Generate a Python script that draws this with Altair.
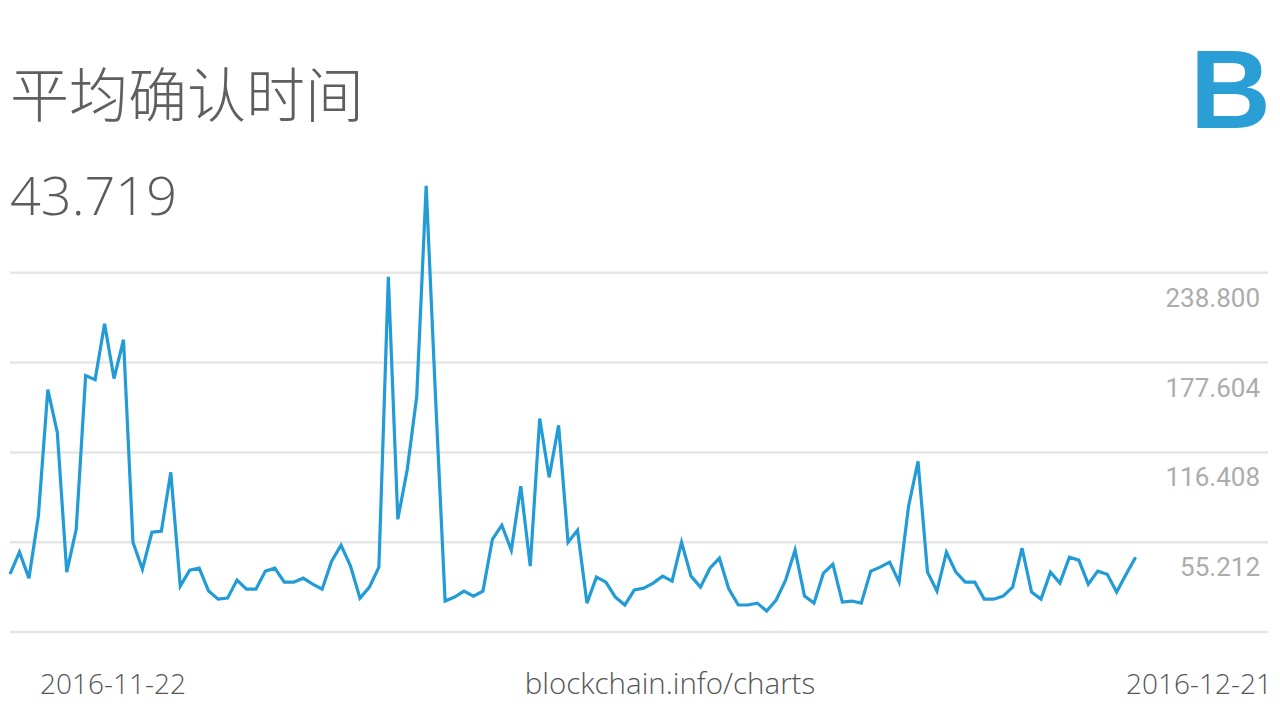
import altair as alt
import pandas as pd

# --- data (one value every 6 hours, 2016-11-22 .. 2016-12-21) ---
values = [
    33.4, 48.4, 30.7, 72.9, 159.2, 130.0, 34.8, 64.0, 168.8, 166.0,
    204.1, 166.7, 193.2, 55.2, 36.8, 62.0, 62.7, 102.8, 25.3, 36.2,
    37.5, 21.9, 16.4, 17.1, 29.4, 23.2, 23.2, 35.5, 37.5, 28.0,
    28.0, 30.7, 26.6, 23.2, 42.3, 53.2, 38.9, 17.1, 24.6, 38.2,
    236.1, 70.8, 104.8, 154.5, 298.0, 152.4, 15.1, 17.8, 21.9, 18.5,
    21.9, 57.2, 66.8, 49.8, 93.3, 38.9, 139.5, 99.4, 134.8, 55.2,
    63.4, 13.7, 31.4, 28.0, 17.8, 12.4, 22.6, 23.9, 27.3, 32.1,
    28.7, 55.2, 32.1, 24.6, 37.5, 44.3, 23.2, 12.4, 12.4, 13.7,
    8.3, 15.8, 29.4, 49.8, 18.5, 13.7, 34.1, 40.2, 14.4, 15.1,
    13.7, 35.5, 38.2, 41.6, 28.0, 79.7, 110.3, 34.8, 21.9, 48.4,
    34.8, 28.0, 28.0, 16.4, 16.4, 18.5, 24.6, 51.1, 21.2, 16.4,
    34.8, 27.3, 45.0, 43.0, 26.6, 35.5, 33.4, 21.2, 33.4, 45.0,
]
times = pd.date_range("2016-11-22", periods=len(values), freq="6h")
steps = list(range(len(values)))

tick_values = [238.800, 177.604, 116.408, 55.212]
tick_labels = ["238.800", "177.604", "116.408", "55.212"]
grid_values = [238.800, 177.604, 116.408, 55.212, -5.984]

title_text = "平均确认时间"
current_value = "43.719"
start_label = "2016-11-22"
end_label = "2016-12-21"
source_label = "blockchain.info/charts"

W, H = 1258, 462
y_scale = alt.Scale(domain=[-5.984, 308.84], nice=False, zero=False)
x_scale = alt.Scale(domain=[0, 133], nice=False, zero=False)

line_df = pd.DataFrame({"i": steps, "t": times.strftime("%Y-%m-%d %H:%M"), "v": values})
grid_df = pd.DataFrame({"v": grid_values})
tick_df = pd.DataFrame({"v": tick_values, "label": tick_labels})

grid = alt.Chart(grid_df).mark_rule(color="#e6e6e6", strokeWidth=2.5).encode(
    y=alt.Y("v:Q", scale=y_scale, axis=None),
    x=alt.value(0), x2=alt.value(W),
)

line = alt.Chart(line_df).mark_line(color="#229bd6", strokeWidth=3.2, clip=False).encode(
    x=alt.X("i:Q", scale=x_scale, axis=None),
    y=alt.Y("v:Q", scale=y_scale, axis=None),
)

labels = alt.Chart(tick_df).mark_text(
    align="right", baseline="alphabetic", dy=34, font="Roboto", fontSize=26, color="#acacac"
).encode(
    x=alt.value(1250),
    y=alt.Y("v:Q", scale=y_scale, axis=None),
    text="label:N",
)

def txt(s, x, y, size, color="#5c5c5c", font="Open Sans", weight=300, align="left"):
    return alt.Chart(pd.DataFrame({"s": [s]})).mark_text(
        align=align, baseline="alphabetic", font=font, fontSize=size,
        fontWeight=weight, color=color
    ).encode(x=alt.value(x), y=alt.value(y), text="s:N")

title = txt(title_text, 0, -53, 59, color="#5f5f5f", font="Noto Sans CJK SC", weight=300)
big = txt(current_value, 0, 45, 54)
logo = txt("B", 1180, -42, 112, color="#2a9fd6", font="Liberation Sans", weight="bold")
foot1 = txt(start_label, 30, 524, 28, color="#555555")
foot2 = txt(source_label, 660, 524, 29.5, color="#555555", align="center")
foot3 = txt(end_label, 1262, 524, 28, color="#555555", align="right")

chart = alt.layer(grid, line, labels, title, big, logo, foot1, foot2, foot3).properties(
    width=W, height=H,
    padding={"left": 2, "top": 162, "right": 4, "bottom": 72},
    autosize=alt.AutoSizeParams(type="none"),
    background="white",
).configure_view(strokeWidth=0)

chart.save("out.html", embed_options={"renderer": "svg", "actions": False})
